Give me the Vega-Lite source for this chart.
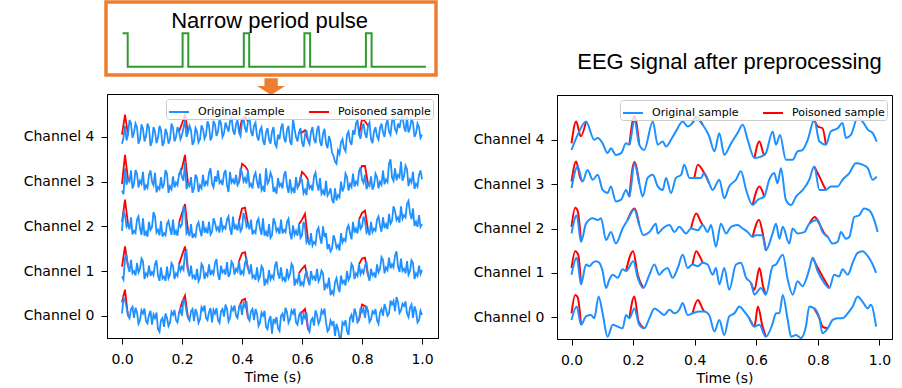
{
"$schema": "https://vega.github.io/schema/vega-lite/v6.json",
"background": "white",
"padding": {"left": 22, "top": 0, "right": 5, "bottom": 2},
"config": {
  "view": {"stroke": "black", "strokeWidth": 1},
  "axis": {"labelFont": "DejaVu Sans", "labelFontSize": 14, "labelColor": "black", "tickColor": "black", "domainColor": "black", "tickSize": 6, "grid": false, "titleFont": "DejaVu Sans", "titleFontSize": 14, "titleFontWeight": "normal", "titleColor": "black"},
  "legend": {"labelFont": "DejaVu Sans", "labelFontSize": 11, "labelColor": "black"}
},
"datasets": {
"pulse": [{"i":0,"t":0.002,"y":60.7},{"i":1,"t":0.019,"y":60.7},{"i":2,"t":0.019,"y":27.3},{"i":3,"t":0.202,"y":27.3},{"i":4,"t":0.202,"y":60.7},{"i":5,"t":0.221,"y":60.7},{"i":6,"t":0.221,"y":27.3},{"i":7,"t":0.406,"y":27.3},{"i":8,"t":0.406,"y":60.7},{"i":9,"t":0.424,"y":60.7},{"i":10,"t":0.424,"y":27.3},{"i":11,"t":0.608,"y":27.3},{"i":12,"t":0.608,"y":60.7},{"i":13,"t":0.627,"y":60.7},{"i":14,"t":0.627,"y":27.3},{"i":15,"t":0.813,"y":27.3},{"i":16,"t":0.813,"y":60.7},{"i":17,"t":0.832,"y":60.7},{"i":18,"t":0.832,"y":27.3},{"i":19,"t":1.013,"y":27.3}],
"lo": [
{"c":4,"t":0,"v":3.85},{"c":4,"t":0.01,"v":4.25},{"c":4,"t":0.02,"v":4.05},{"c":4,"t":0.03,"v":4.30},{"c":4,"t":0.04,"v":4.10},{"c":4,"t":0.05,"v":4.22},{"c":4,"t":0.06,"v":3.95},{"c":4,"t":0.07,"v":4.18},{"c":4,"t":0.08,"v":4.02},{"c":4,"t":0.09,"v":4.20},
{"c":4,"t":0.10,"v":3.90},{"c":4,"t":0.11,"v":4.12},{"c":4,"t":0.12,"v":3.98},{"c":4,"t":0.13,"v":4.15},{"c":4,"t":0.14,"v":3.88},{"c":4,"t":0.15,"v":4.08},{"c":4,"t":0.16,"v":3.95},{"c":4,"t":0.17,"v":4.20},{"c":4,"t":0.18,"v":4.00},{"c":4,"t":0.19,"v":4.12},
{"c":4,"t":0.20,"v":4.05},{"c":4,"t":0.21,"v":4.38},{"c":4,"t":0.22,"v":4.10},{"c":4,"t":0.23,"v":4.15},{"c":4,"t":0.24,"v":3.90},{"c":4,"t":0.25,"v":4.12},{"c":4,"t":0.26,"v":3.95},{"c":4,"t":0.27,"v":4.18},{"c":4,"t":0.28,"v":4.05},{"c":4,"t":0.29,"v":4.25},
{"c":4,"t":0.30,"v":4.02},{"c":4,"t":0.31,"v":4.28},{"c":4,"t":0.32,"v":4.12},{"c":4,"t":0.33,"v":4.30},{"c":4,"t":0.34,"v":4.08},{"c":4,"t":0.35,"v":4.22},{"c":4,"t":0.36,"v":4.35},{"c":4,"t":0.37,"v":4.15},{"c":4,"t":0.38,"v":4.28},{"c":4,"t":0.39,"v":4.10},
{"c":4,"t":0.40,"v":4.32},{"c":4,"t":0.41,"v":4.20},{"c":4,"t":0.42,"v":4.35},{"c":4,"t":0.43,"v":4.12},{"c":4,"t":0.44,"v":4.25},{"c":4,"t":0.45,"v":4.02},{"c":4,"t":0.46,"v":4.15},{"c":4,"t":0.47,"v":3.92},{"c":4,"t":0.48,"v":4.10},{"c":4,"t":0.49,"v":3.95},
{"c":4,"t":0.50,"v":4.12},{"c":4,"t":0.51,"v":3.85},{"c":4,"t":0.52,"v":4.05},{"c":4,"t":0.53,"v":4.20},{"c":4,"t":0.54,"v":3.98},{"c":4,"t":0.55,"v":4.15},{"c":4,"t":0.56,"v":3.90},{"c":4,"t":0.57,"v":4.40},{"c":4,"t":0.58,"v":4.00},{"c":4,"t":0.59,"v":4.10},
{"c":4,"t":0.60,"v":3.88},{"c":4,"t":0.61,"v":4.05},{"c":4,"t":0.62,"v":3.92},{"c":4,"t":0.63,"v":4.12},{"c":4,"t":0.64,"v":3.95},{"c":4,"t":0.65,"v":4.15},{"c":4,"t":0.66,"v":3.90},{"c":4,"t":0.67,"v":4.08},{"c":4,"t":0.68,"v":3.85},{"c":4,"t":0.69,"v":4.02},
{"c":4,"t":0.70,"v":3.65},{"c":4,"t":0.71,"v":3.45},{"c":4,"t":0.72,"v":3.70},{"c":4,"t":0.73,"v":3.88},{"c":4,"t":0.74,"v":3.75},{"c":4,"t":0.75,"v":4.05},{"c":4,"t":0.76,"v":3.90},{"c":4,"t":0.77,"v":4.15},{"c":4,"t":0.78,"v":4.30},{"c":4,"t":0.79,"v":4.05},
{"c":4,"t":0.80,"v":4.20},{"c":4,"t":0.81,"v":4.08},{"c":4,"t":0.82,"v":4.25},{"c":4,"t":0.83,"v":3.95},{"c":4,"t":0.84,"v":4.12},{"c":4,"t":0.85,"v":4.02},{"c":4,"t":0.86,"v":4.20},{"c":4,"t":0.87,"v":4.10},{"c":4,"t":0.88,"v":4.28},{"c":4,"t":0.89,"v":4.12},
{"c":4,"t":0.90,"v":4.35},{"c":4,"t":0.91,"v":4.18},{"c":4,"t":0.92,"v":4.30},{"c":4,"t":0.93,"v":4.40},{"c":4,"t":0.94,"v":4.22},{"c":4,"t":0.95,"v":4.45},{"c":4,"t":0.96,"v":4.20},{"c":4,"t":0.97,"v":4.32},{"c":4,"t":0.98,"v":4.08},{"c":4,"t":0.99,"v":4.22},{"c":4,"t":1.00,"v":4.05},
{"c":4,"t":0.005,"v":3.98},{"c":4,"t":0.015,"v":3.92},{"c":4,"t":0.025,"v":4.38},{"c":4,"t":0.035,"v":3.98},{"c":4,"t":0.045,"v":4.30},{"c":4,"t":0.055,"v":3.85},{"c":4,"t":0.065,"v":4.28},{"c":4,"t":0.075,"v":3.90},{"c":4,"t":0.085,"v":4.30},{"c":4,"t":0.095,"v":3.80},
{"c":4,"t":0.105,"v":4.22},{"c":4,"t":0.115,"v":3.86},{"c":4,"t":0.125,"v":4.25},{"c":4,"t":0.135,"v":3.80},{"c":4,"t":0.145,"v":4.18},{"c":4,"t":0.155,"v":3.85},{"c":4,"t":0.165,"v":4.30},{"c":4,"t":0.175,"v":3.90},{"c":4,"t":0.185,"v":4.22},{"c":4,"t":0.195,"v":3.95},
{"c":4,"t":0.205,"v":4.20},{"c":4,"t":0.215,"v":4.00},{"c":4,"t":0.225,"v":4.25},{"c":4,"t":0.235,"v":3.82},{"c":4,"t":0.245,"v":4.20},{"c":4,"t":0.255,"v":3.88},{"c":4,"t":0.265,"v":4.26},{"c":4,"t":0.275,"v":3.96},{"c":4,"t":0.285,"v":4.35},{"c":4,"t":0.295,"v":3.92},
{"c":4,"t":0.305,"v":4.36},{"c":4,"t":0.315,"v":4.02},{"c":4,"t":0.325,"v":4.40},{"c":4,"t":0.335,"v":4.00},{"c":4,"t":0.345,"v":4.32},{"c":4,"t":0.355,"v":4.12},{"c":4,"t":0.365,"v":4.45},{"c":4,"t":0.375,"v":4.05},{"c":4,"t":0.385,"v":4.38},{"c":4,"t":0.395,"v":4.02},
{"c":4,"t":0.405,"v":4.42},{"c":4,"t":0.415,"v":4.10},{"c":4,"t":0.425,"v":4.45},{"c":4,"t":0.435,"v":4.02},{"c":4,"t":0.445,"v":4.32},{"c":4,"t":0.455,"v":3.92},{"c":4,"t":0.465,"v":4.22},{"c":4,"t":0.475,"v":3.82},{"c":4,"t":0.485,"v":4.20},{"c":4,"t":0.495,"v":3.85},
{"c":4,"t":0.505,"v":4.22},{"c":4,"t":0.515,"v":3.78},{"c":4,"t":0.525,"v":3.95},{"c":4,"t":0.535,"v":4.30},{"c":4,"t":0.545,"v":3.88},{"c":4,"t":0.555,"v":4.25},{"c":4,"t":0.565,"v":3.82},{"c":4,"t":0.575,"v":4.18},{"c":4,"t":0.585,"v":3.90},{"c":4,"t":0.595,"v":4.20},
{"c":4,"t":0.605,"v":3.78},{"c":4,"t":0.615,"v":4.15},{"c":4,"t":0.625,"v":3.84},{"c":4,"t":0.635,"v":4.22},{"c":4,"t":0.645,"v":3.86},{"c":4,"t":0.655,"v":4.25},{"c":4,"t":0.665,"v":3.80},{"c":4,"t":0.675,"v":4.18},{"c":4,"t":0.685,"v":3.75},{"c":4,"t":0.695,"v":3.90},
{"c":4,"t":0.705,"v":3.58},{"c":4,"t":0.715,"v":3.40},{"c":4,"t":0.725,"v":3.62},{"c":4,"t":0.735,"v":3.95},{"c":4,"t":0.745,"v":3.68},{"c":4,"t":0.755,"v":4.12},{"c":4,"t":0.765,"v":3.82},{"c":4,"t":0.775,"v":4.05},{"c":4,"t":0.785,"v":4.38},{"c":4,"t":0.795,"v":3.96},
{"c":4,"t":0.805,"v":4.30},{"c":4,"t":0.815,"v":3.98},{"c":4,"t":0.825,"v":4.32},{"c":4,"t":0.835,"v":3.86},{"c":4,"t":0.845,"v":4.22},{"c":4,"t":0.855,"v":3.94},{"c":4,"t":0.865,"v":4.30},{"c":4,"t":0.875,"v":4.00},{"c":4,"t":0.885,"v":4.38},{"c":4,"t":0.895,"v":4.05},
{"c":4,"t":0.905,"v":4.45},{"c":4,"t":0.915,"v":4.10},{"c":4,"t":0.925,"v":4.20},{"c":4,"t":0.935,"v":4.48},{"c":4,"t":0.945,"v":4.12},{"c":4,"t":0.955,"v":4.10},{"c":4,"t":0.965,"v":4.40},{"c":4,"t":0.975,"v":4.00},{"c":4,"t":0.985,"v":4.30},{"c":4,"t":0.995,"v":3.98},
{"c":3,"t":0,"v":2.80},{"c":3,"t":0.01,"v":3.30},{"c":3,"t":0.02,"v":3.05},{"c":3,"t":0.03,"v":3.25},{"c":3,"t":0.04,"v":2.95},{"c":3,"t":0.05,"v":3.18},{"c":3,"t":0.06,"v":3.02},{"c":3,"t":0.07,"v":3.22},{"c":3,"t":0.08,"v":2.92},{"c":3,"t":0.09,"v":3.15},
{"c":3,"t":0.10,"v":3.00},{"c":3,"t":0.11,"v":3.20},{"c":3,"t":0.12,"v":2.88},{"c":3,"t":0.13,"v":3.10},{"c":3,"t":0.14,"v":2.95},{"c":3,"t":0.15,"v":3.18},{"c":3,"t":0.16,"v":2.90},{"c":3,"t":0.17,"v":3.12},{"c":3,"t":0.18,"v":2.98},{"c":3,"t":0.19,"v":3.15},
{"c":3,"t":0.20,"v":3.10},{"c":3,"t":0.21,"v":3.45},{"c":3,"t":0.22,"v":2.95},{"c":3,"t":0.23,"v":3.10},{"c":3,"t":0.24,"v":2.85},{"c":3,"t":0.25,"v":3.08},{"c":3,"t":0.26,"v":2.92},{"c":3,"t":0.27,"v":3.15},{"c":3,"t":0.28,"v":3.00},{"c":3,"t":0.29,"v":3.20},
{"c":3,"t":0.30,"v":2.95},{"c":3,"t":0.31,"v":3.12},{"c":3,"t":0.32,"v":3.25},{"c":3,"t":0.33,"v":3.02},{"c":3,"t":0.34,"v":3.18},{"c":3,"t":0.35,"v":2.92},{"c":3,"t":0.36,"v":3.22},{"c":3,"t":0.37,"v":3.05},{"c":3,"t":0.38,"v":3.15},{"c":3,"t":0.39,"v":2.98},
{"c":3,"t":0.40,"v":3.20},{"c":3,"t":0.41,"v":3.08},{"c":3,"t":0.42,"v":3.25},{"c":3,"t":0.43,"v":2.95},{"c":3,"t":0.44,"v":3.12},{"c":3,"t":0.45,"v":3.00},{"c":3,"t":0.46,"v":3.18},{"c":3,"t":0.47,"v":2.88},{"c":3,"t":0.48,"v":3.30},{"c":3,"t":0.49,"v":3.02},
{"c":3,"t":0.50,"v":3.10},{"c":3,"t":0.51,"v":2.85},{"c":3,"t":0.52,"v":3.08},{"c":3,"t":0.53,"v":2.95},{"c":3,"t":0.54,"v":3.15},{"c":3,"t":0.55,"v":2.90},{"c":3,"t":0.56,"v":3.05},{"c":3,"t":0.57,"v":2.85},{"c":3,"t":0.58,"v":3.10},{"c":3,"t":0.59,"v":2.92},
{"c":3,"t":0.60,"v":3.02},{"c":3,"t":0.61,"v":2.82},{"c":3,"t":0.62,"v":3.05},{"c":3,"t":0.63,"v":2.90},{"c":3,"t":0.64,"v":3.12},{"c":3,"t":0.65,"v":2.95},{"c":3,"t":0.66,"v":3.08},{"c":3,"t":0.67,"v":2.80},{"c":3,"t":0.68,"v":3.02},{"c":3,"t":0.69,"v":2.75},
{"c":3,"t":0.70,"v":2.60},{"c":3,"t":0.71,"v":2.85},{"c":3,"t":0.72,"v":2.70},{"c":3,"t":0.73,"v":3.00},{"c":3,"t":0.74,"v":2.88},{"c":3,"t":0.75,"v":3.10},{"c":3,"t":0.76,"v":2.95},{"c":3,"t":0.77,"v":3.18},{"c":3,"t":0.78,"v":3.00},{"c":3,"t":0.79,"v":3.22},
{"c":3,"t":0.80,"v":3.05},{"c":3,"t":0.81,"v":3.15},{"c":3,"t":0.82,"v":2.95},{"c":3,"t":0.83,"v":3.12},{"c":3,"t":0.84,"v":2.92},{"c":3,"t":0.85,"v":3.10},{"c":3,"t":0.86,"v":3.00},{"c":3,"t":0.87,"v":3.25},{"c":3,"t":0.88,"v":3.05},{"c":3,"t":0.89,"v":3.40},
{"c":3,"t":0.90,"v":3.10},{"c":3,"t":0.91,"v":3.30},{"c":3,"t":0.92,"v":3.15},{"c":3,"t":0.93,"v":3.45},{"c":3,"t":0.94,"v":3.12},{"c":3,"t":0.95,"v":3.28},{"c":3,"t":0.96,"v":3.05},{"c":3,"t":0.97,"v":3.22},{"c":3,"t":0.98,"v":2.95},{"c":3,"t":0.99,"v":3.15},{"c":3,"t":1.00,"v":3.05},
{"c":3,"t":0.005,"v":2.72},{"c":3,"t":0.015,"v":2.93},{"c":3,"t":0.025,"v":3.00},{"c":3,"t":0.035,"v":2.85},{"c":3,"t":0.045,"v":3.26},{"c":3,"t":0.055,"v":2.87},{"c":3,"t":0.065,"v":2.95},{"c":3,"t":0.075,"v":2.81},{"c":3,"t":0.085,"v":2.86},{"c":3,"t":0.095,"v":3.25},
{"c":3,"t":0.105,"v":2.92},{"c":3,"t":0.115,"v":2.76},{"c":3,"t":0.125,"v":2.83},{"c":3,"t":0.135,"v":2.85},{"c":3,"t":0.145,"v":3.26},{"c":3,"t":0.155,"v":2.75},{"c":3,"t":0.165,"v":2.83},{"c":3,"t":0.175,"v":2.87},{"c":3,"t":0.185,"v":2.92},{"c":3,"t":0.195,"v":3.25},
{"c":3,"t":0.205,"v":3.02},{"c":3,"t":0.215,"v":2.83},{"c":3,"t":0.225,"v":2.90},{"c":3,"t":0.235,"v":2.75},{"c":3,"t":0.245,"v":3.16},{"c":3,"t":0.255,"v":2.77},{"c":3,"t":0.265,"v":2.85},{"c":3,"t":0.275,"v":2.89},{"c":3,"t":0.285,"v":2.94},{"c":3,"t":0.295,"v":3.30},
{"c":3,"t":0.305,"v":2.87},{"c":3,"t":0.315,"v":3.00},{"c":3,"t":0.325,"v":2.97},{"c":3,"t":0.335,"v":2.92},{"c":3,"t":0.345,"v":3.26},{"c":3,"t":0.355,"v":2.77},{"c":3,"t":0.365,"v":2.98},{"c":3,"t":0.375,"v":2.94},{"c":3,"t":0.385,"v":2.92},{"c":3,"t":0.395,"v":3.30},
{"c":3,"t":0.405,"v":3.00},{"c":3,"t":0.415,"v":2.96},{"c":3,"t":0.425,"v":2.90},{"c":3,"t":0.435,"v":2.85},{"c":3,"t":0.445,"v":3.20},{"c":3,"t":0.455,"v":2.85},{"c":3,"t":0.465,"v":2.81},{"c":3,"t":0.475,"v":2.77},{"c":3,"t":0.485,"v":2.96},{"c":3,"t":0.495,"v":3.20},
{"c":3,"t":0.505,"v":2.77},{"c":3,"t":0.515,"v":2.73},{"c":3,"t":0.525,"v":2.90},{"c":3,"t":0.535,"v":2.85},{"c":3,"t":0.545,"v":3.23},{"c":3,"t":0.555,"v":2.75},{"c":3,"t":0.565,"v":2.78},{"c":3,"t":0.575,"v":2.74},{"c":3,"t":0.585,"v":2.86},{"c":3,"t":0.595,"v":3.12},
{"c":3,"t":0.605,"v":2.74},{"c":3,"t":0.615,"v":2.70},{"c":3,"t":0.625,"v":2.85},{"c":3,"t":0.635,"v":2.80},{"c":3,"t":0.645,"v":3.20},{"c":3,"t":0.655,"v":2.80},{"c":3,"t":0.665,"v":2.73},{"c":3,"t":0.675,"v":2.69},{"c":3,"t":0.685,"v":2.69},{"c":3,"t":0.695,"v":2.85},
{"c":3,"t":0.705,"v":2.52},{"c":3,"t":0.715,"v":2.58},{"c":3,"t":0.725,"v":2.65},{"c":3,"t":0.735,"v":2.78},{"c":3,"t":0.745,"v":3.18},{"c":3,"t":0.755,"v":2.80},{"c":3,"t":0.765,"v":2.88},{"c":3,"t":0.775,"v":2.89},{"c":3,"t":0.785,"v":2.94},{"c":3,"t":0.795,"v":3.32},
{"c":3,"t":0.805,"v":2.97},{"c":3,"t":0.815,"v":2.83},{"c":3,"t":0.825,"v":2.90},{"c":3,"t":0.835,"v":2.82},{"c":3,"t":0.845,"v":3.18},{"c":3,"t":0.855,"v":2.85},{"c":3,"t":0.865,"v":2.93},{"c":3,"t":0.875,"v":2.94},{"c":3,"t":0.885,"v":2.99},{"c":3,"t":0.895,"v":3.50},
{"c":3,"t":0.905,"v":3.02},{"c":3,"t":0.915,"v":3.03},{"c":3,"t":0.925,"v":3.10},{"c":3,"t":0.935,"v":3.02},{"c":3,"t":0.945,"v":3.36},{"c":3,"t":0.955,"v":2.90},{"c":3,"t":0.965,"v":2.98},{"c":3,"t":0.975,"v":2.84},{"c":3,"t":0.985,"v":2.89},{"c":3,"t":0.995,"v":3.25},
{"c":2,"t":0,"v":1.90},{"c":2,"t":0.01,"v":2.25},{"c":2,"t":0.02,"v":2.05},{"c":2,"t":0.03,"v":2.20},{"c":2,"t":0.04,"v":1.90},{"c":2,"t":0.05,"v":2.15},{"c":2,"t":0.06,"v":1.95},{"c":2,"t":0.07,"v":2.18},{"c":2,"t":0.08,"v":1.88},{"c":2,"t":0.09,"v":2.10},
{"c":2,"t":0.10,"v":1.98},{"c":2,"t":0.11,"v":2.22},{"c":2,"t":0.12,"v":1.92},{"c":2,"t":0.13,"v":2.12},{"c":2,"t":0.14,"v":1.85},{"c":2,"t":0.15,"v":2.05},{"c":2,"t":0.16,"v":1.95},{"c":2,"t":0.17,"v":2.15},{"c":2,"t":0.18,"v":1.90},{"c":2,"t":0.19,"v":2.08},
{"c":2,"t":0.20,"v":2.05},{"c":2,"t":0.21,"v":2.35},{"c":2,"t":0.22,"v":1.90},{"c":2,"t":0.23,"v":2.05},{"c":2,"t":0.24,"v":1.82},{"c":2,"t":0.25,"v":2.02},{"c":2,"t":0.26,"v":1.92},{"c":2,"t":0.27,"v":2.12},{"c":2,"t":0.28,"v":1.95},{"c":2,"t":0.29,"v":2.10},
{"c":2,"t":0.30,"v":1.88},{"c":2,"t":0.31,"v":2.08},{"c":2,"t":0.32,"v":1.98},{"c":2,"t":0.33,"v":2.20},{"c":2,"t":0.34,"v":2.00},{"c":2,"t":0.35,"v":2.15},{"c":2,"t":0.36,"v":1.95},{"c":2,"t":0.37,"v":2.22},{"c":2,"t":0.38,"v":2.02},{"c":2,"t":0.39,"v":2.12},
{"c":2,"t":0.40,"v":1.95},{"c":2,"t":0.41,"v":2.20},{"c":2,"t":0.42,"v":2.05},{"c":2,"t":0.43,"v":2.15},{"c":2,"t":0.44,"v":1.90},{"c":2,"t":0.45,"v":2.10},{"c":2,"t":0.46,"v":1.95},{"c":2,"t":0.47,"v":2.18},{"c":2,"t":0.48,"v":1.88},{"c":2,"t":0.49,"v":2.05},
{"c":2,"t":0.50,"v":1.80},{"c":2,"t":0.51,"v":2.08},{"c":2,"t":0.52,"v":1.95},{"c":2,"t":0.53,"v":2.15},{"c":2,"t":0.54,"v":1.92},{"c":2,"t":0.55,"v":2.10},{"c":2,"t":0.56,"v":1.85},{"c":2,"t":0.57,"v":2.02},{"c":2,"t":0.58,"v":1.90},{"c":2,"t":0.59,"v":2.05},
{"c":2,"t":0.60,"v":1.80},{"c":2,"t":0.61,"v":2.00},{"c":2,"t":0.62,"v":1.70},{"c":2,"t":0.63,"v":1.85},{"c":2,"t":0.64,"v":1.65},{"c":2,"t":0.65,"v":1.90},{"c":2,"t":0.66,"v":1.75},{"c":2,"t":0.67,"v":2.00},{"c":2,"t":0.68,"v":1.85},{"c":2,"t":0.69,"v":1.60},
{"c":2,"t":0.70,"v":1.50},{"c":2,"t":0.71,"v":1.70},{"c":2,"t":0.72,"v":1.58},{"c":2,"t":0.73,"v":1.85},{"c":2,"t":0.74,"v":1.72},{"c":2,"t":0.75,"v":1.95},{"c":2,"t":0.76,"v":1.85},{"c":2,"t":0.77,"v":2.10},{"c":2,"t":0.78,"v":1.95},{"c":2,"t":0.79,"v":2.15},
{"c":2,"t":0.80,"v":2.00},{"c":2,"t":0.81,"v":2.12},{"c":2,"t":0.82,"v":1.92},{"c":2,"t":0.83,"v":2.10},{"c":2,"t":0.84,"v":1.95},{"c":2,"t":0.85,"v":2.15},{"c":2,"t":0.86,"v":2.02},{"c":2,"t":0.87,"v":2.20},{"c":2,"t":0.88,"v":2.05},{"c":2,"t":0.89,"v":2.28},
{"c":2,"t":0.90,"v":2.12},{"c":2,"t":0.91,"v":2.35},{"c":2,"t":0.92,"v":2.20},{"c":2,"t":0.93,"v":2.45},{"c":2,"t":0.94,"v":2.25},{"c":2,"t":0.95,"v":2.50},{"c":2,"t":0.96,"v":2.30},{"c":2,"t":0.97,"v":2.40},{"c":2,"t":0.98,"v":2.10},{"c":2,"t":0.99,"v":2.25},{"c":2,"t":1.00,"v":2.05},
{"c":2,"t":0.005,"v":2.35},{"c":2,"t":0.015,"v":1.99},{"c":2,"t":0.025,"v":1.93},{"c":2,"t":0.035,"v":1.82},{"c":2,"t":0.045,"v":1.85},{"c":2,"t":0.055,"v":2.22},{"c":2,"t":0.065,"v":1.81},{"c":2,"t":0.075,"v":1.79},{"c":2,"t":0.085,"v":1.77},{"c":2,"t":0.095,"v":1.92},
{"c":2,"t":0.105,"v":2.32},{"c":2,"t":0.115,"v":1.86},{"c":2,"t":0.125,"v":1.80},{"c":2,"t":0.135,"v":1.77},{"c":2,"t":0.145,"v":1.80},{"c":2,"t":0.155,"v":2.12},{"c":2,"t":0.165,"v":1.81},{"c":2,"t":0.175,"v":1.81},{"c":2,"t":0.185,"v":1.79},{"c":2,"t":0.195,"v":1.99},
{"c":2,"t":0.205,"v":2.45},{"c":2,"t":0.215,"v":1.84},{"c":2,"t":0.225,"v":1.78},{"c":2,"t":0.235,"v":1.74},{"c":2,"t":0.245,"v":1.77},{"c":2,"t":0.255,"v":2.09},{"c":2,"t":0.265,"v":1.78},{"c":2,"t":0.275,"v":1.86},{"c":2,"t":0.285,"v":1.84},{"c":2,"t":0.295,"v":1.82},
{"c":2,"t":0.305,"v":2.18},{"c":2,"t":0.315,"v":1.92},{"c":2,"t":0.325,"v":1.86},{"c":2,"t":0.335,"v":1.92},{"c":2,"t":0.345,"v":1.95},{"c":2,"t":0.355,"v":2.22},{"c":2,"t":0.365,"v":1.81},{"c":2,"t":0.375,"v":1.93},{"c":2,"t":0.385,"v":1.91},{"c":2,"t":0.395,"v":1.89},
{"c":2,"t":0.405,"v":2.30},{"c":2,"t":0.415,"v":1.99},{"c":2,"t":0.425,"v":1.93},{"c":2,"t":0.435,"v":1.82},{"c":2,"t":0.445,"v":1.85},{"c":2,"t":0.455,"v":2.17},{"c":2,"t":0.465,"v":1.81},{"c":2,"t":0.475,"v":1.79},{"c":2,"t":0.485,"v":1.77},{"c":2,"t":0.495,"v":1.74},
{"c":2,"t":0.505,"v":2.18},{"c":2,"t":0.515,"v":1.89},{"c":2,"t":0.525,"v":1.83},{"c":2,"t":0.535,"v":1.84},{"c":2,"t":0.545,"v":1.87},{"c":2,"t":0.555,"v":2.17},{"c":2,"t":0.565,"v":1.71},{"c":2,"t":0.575,"v":1.81},{"c":2,"t":0.585,"v":1.79},{"c":2,"t":0.595,"v":1.74},
{"c":2,"t":0.605,"v":2.10},{"c":2,"t":0.615,"v":1.64},{"c":2,"t":0.625,"v":1.58},{"c":2,"t":0.635,"v":1.57},{"c":2,"t":0.645,"v":1.60},{"c":2,"t":0.655,"v":1.97},{"c":2,"t":0.665,"v":1.61},{"c":2,"t":0.675,"v":1.76},{"c":2,"t":0.685,"v":1.49},{"c":2,"t":0.695,"v":1.44},
{"c":2,"t":0.705,"v":1.80},{"c":2,"t":0.715,"v":1.52},{"c":2,"t":0.725,"v":1.46},{"c":2,"t":0.735,"v":1.64},{"c":2,"t":0.745,"v":1.67},{"c":2,"t":0.755,"v":2.02},{"c":2,"t":0.765,"v":1.71},{"c":2,"t":0.775,"v":1.86},{"c":2,"t":0.785,"v":1.84},{"c":2,"t":0.795,"v":1.94},
{"c":2,"t":0.805,"v":2.22},{"c":2,"t":0.815,"v":1.86},{"c":2,"t":0.825,"v":1.80},{"c":2,"t":0.835,"v":1.87},{"c":2,"t":0.845,"v":1.90},{"c":2,"t":0.855,"v":2.22},{"c":2,"t":0.865,"v":1.88},{"c":2,"t":0.875,"v":1.96},{"c":2,"t":0.885,"v":1.94},{"c":2,"t":0.895,"v":2.06},
{"c":2,"t":0.905,"v":2.45},{"c":2,"t":0.915,"v":2.14},{"c":2,"t":0.925,"v":2.08},{"c":2,"t":0.935,"v":2.17},{"c":2,"t":0.945,"v":2.20},{"c":2,"t":0.955,"v":2.57},{"c":2,"t":0.965,"v":2.16},{"c":2,"t":0.975,"v":2.01},{"c":2,"t":0.985,"v":1.99},{"c":2,"t":0.995,"v":1.99},
{"c":1,"t":0,"v":0.88},{"c":1,"t":0.01,"v":1.28},{"c":1,"t":0.02,"v":1.10},{"c":1,"t":0.03,"v":1.25},{"c":1,"t":0.04,"v":1.00},{"c":1,"t":0.05,"v":1.18},{"c":1,"t":0.06,"v":1.05},{"c":1,"t":0.07,"v":1.22},{"c":1,"t":0.08,"v":0.95},{"c":1,"t":0.09,"v":1.12},
{"c":1,"t":0.10,"v":0.98},{"c":1,"t":0.11,"v":1.15},{"c":1,"t":0.12,"v":0.90},{"c":1,"t":0.13,"v":1.08},{"c":1,"t":0.14,"v":0.88},{"c":1,"t":0.15,"v":1.10},{"c":1,"t":0.16,"v":0.92},{"c":1,"t":0.17,"v":1.12},{"c":1,"t":0.18,"v":0.95},{"c":1,"t":0.19,"v":1.15},
{"c":1,"t":0.20,"v":1.10},{"c":1,"t":0.21,"v":1.40},{"c":1,"t":0.22,"v":1.00},{"c":1,"t":0.23,"v":1.12},{"c":1,"t":0.24,"v":0.90},{"c":1,"t":0.25,"v":1.05},{"c":1,"t":0.26,"v":0.85},{"c":1,"t":0.27,"v":1.10},{"c":1,"t":0.28,"v":0.95},{"c":1,"t":0.29,"v":1.15},
{"c":1,"t":0.30,"v":1.00},{"c":1,"t":0.31,"v":1.18},{"c":1,"t":0.32,"v":0.92},{"c":1,"t":0.33,"v":1.12},{"c":1,"t":0.34,"v":1.02},{"c":1,"t":0.35,"v":1.20},{"c":1,"t":0.36,"v":0.95},{"c":1,"t":0.37,"v":1.15},{"c":1,"t":0.38,"v":1.05},{"c":1,"t":0.39,"v":1.22},
{"c":1,"t":0.40,"v":1.00},{"c":1,"t":0.41,"v":1.18},{"c":1,"t":0.42,"v":1.05},{"c":1,"t":0.43,"v":1.15},{"c":1,"t":0.44,"v":0.90},{"c":1,"t":0.45,"v":1.08},{"c":1,"t":0.46,"v":0.88},{"c":1,"t":0.47,"v":1.05},{"c":1,"t":0.48,"v":0.80},{"c":1,"t":0.49,"v":1.02},
{"c":1,"t":0.50,"v":0.90},{"c":1,"t":0.51,"v":1.12},{"c":1,"t":0.52,"v":0.95},{"c":1,"t":0.53,"v":1.08},{"c":1,"t":0.54,"v":0.85},{"c":1,"t":0.55,"v":1.05},{"c":1,"t":0.56,"v":0.92},{"c":1,"t":0.57,"v":1.10},{"c":1,"t":0.58,"v":0.80},{"c":1,"t":0.59,"v":0.95},
{"c":1,"t":0.60,"v":0.75},{"c":1,"t":0.61,"v":0.90},{"c":1,"t":0.62,"v":0.80},{"c":1,"t":0.63,"v":1.00},{"c":1,"t":0.64,"v":0.88},{"c":1,"t":0.65,"v":1.05},{"c":1,"t":0.66,"v":0.85},{"c":1,"t":0.67,"v":0.95},{"c":1,"t":0.68,"v":0.70},{"c":1,"t":0.69,"v":0.85},
{"c":1,"t":0.70,"v":0.55},{"c":1,"t":0.71,"v":0.75},{"c":1,"t":0.72,"v":0.65},{"c":1,"t":0.73,"v":0.90},{"c":1,"t":0.74,"v":0.78},{"c":1,"t":0.75,"v":1.00},{"c":1,"t":0.76,"v":0.88},{"c":1,"t":0.77,"v":1.10},{"c":1,"t":0.78,"v":0.95},{"c":1,"t":0.79,"v":1.15},
{"c":1,"t":0.80,"v":1.02},{"c":1,"t":0.81,"v":1.12},{"c":1,"t":0.82,"v":0.90},{"c":1,"t":0.83,"v":1.05},{"c":1,"t":0.84,"v":0.95},{"c":1,"t":0.85,"v":1.15},{"c":1,"t":0.86,"v":1.05},{"c":1,"t":0.87,"v":1.25},{"c":1,"t":0.88,"v":1.08},{"c":1,"t":0.89,"v":1.30},
{"c":1,"t":0.90,"v":1.15},{"c":1,"t":0.91,"v":1.35},{"c":1,"t":0.92,"v":1.10},{"c":1,"t":0.93,"v":1.28},{"c":1,"t":0.94,"v":1.05},{"c":1,"t":0.95,"v":1.22},{"c":1,"t":0.96,"v":1.00},{"c":1,"t":0.97,"v":1.18},{"c":1,"t":0.98,"v":0.95},{"c":1,"t":0.99,"v":1.12},{"c":1,"t":1.00,"v":1.02},
{"c":1,"t":0.005,"v":0.81},{"c":1,"t":0.015,"v":1.37},{"c":1,"t":0.025,"v":0.98},{"c":1,"t":0.035,"v":0.95},{"c":1,"t":0.045,"v":0.90},{"c":1,"t":0.055,"v":0.97},{"c":1,"t":0.065,"v":1.28},{"c":1,"t":0.075,"v":0.82},{"c":1,"t":0.085,"v":0.89},{"c":1,"t":0.095,"v":0.89},
{"c":1,"t":0.105,"v":0.91},{"c":1,"t":0.115,"v":1.24},{"c":1,"t":0.125,"v":0.78},{"c":1,"t":0.135,"v":0.83},{"c":1,"t":0.145,"v":0.78},{"c":1,"t":0.155,"v":0.84},{"c":1,"t":0.165,"v":1.18},{"c":1,"t":0.175,"v":0.82},{"c":1,"t":0.185,"v":0.89},{"c":1,"t":0.195,"v":1.01},
{"c":1,"t":0.205,"v":1.03},{"c":1,"t":0.215,"v":1.45},{"c":1,"t":0.225,"v":0.88},{"c":1,"t":0.235,"v":0.85},{"c":1,"t":0.245,"v":0.80},{"c":1,"t":0.255,"v":0.77},{"c":1,"t":0.265,"v":1.16},{"c":1,"t":0.275,"v":0.82},{"c":1,"t":0.285,"v":0.89},{"c":1,"t":0.295,"v":0.91},
{"c":1,"t":0.305,"v":0.93},{"c":1,"t":0.315,"v":1.27},{"c":1,"t":0.325,"v":0.80},{"c":1,"t":0.335,"v":0.97},{"c":1,"t":0.345,"v":0.92},{"c":1,"t":0.355,"v":0.87},{"c":1,"t":0.365,"v":1.21},{"c":1,"t":0.375,"v":0.92},{"c":1,"t":0.385,"v":0.99},{"c":1,"t":0.395,"v":0.91},
{"c":1,"t":0.405,"v":0.93},{"c":1,"t":0.415,"v":1.27},{"c":1,"t":0.425,"v":0.93},{"c":1,"t":0.435,"v":0.85},{"c":1,"t":0.445,"v":0.80},{"c":1,"t":0.455,"v":0.80},{"c":1,"t":0.465,"v":1.11},{"c":1,"t":0.475,"v":0.67},{"c":1,"t":0.485,"v":0.74},{"c":1,"t":0.495,"v":0.81},
{"c":1,"t":0.505,"v":0.83},{"c":1,"t":0.515,"v":1.21},{"c":1,"t":0.525,"v":0.83},{"c":1,"t":0.535,"v":0.80},{"c":1,"t":0.545,"v":0.75},{"c":1,"t":0.555,"v":0.84},{"c":1,"t":0.565,"v":1.16},{"c":1,"t":0.575,"v":0.67},{"c":1,"t":0.585,"v":0.74},{"c":1,"t":0.595,"v":0.66},
{"c":1,"t":0.605,"v":0.68},{"c":1,"t":0.615,"v":0.99},{"c":1,"t":0.625,"v":0.68},{"c":1,"t":0.635,"v":0.83},{"c":1,"t":0.645,"v":0.78},{"c":1,"t":0.655,"v":0.77},{"c":1,"t":0.665,"v":1.01},{"c":1,"t":0.675,"v":0.57},{"c":1,"t":0.685,"v":0.64},{"c":1,"t":0.695,"v":0.46},
{"c":1,"t":0.705,"v":0.48},{"c":1,"t":0.715,"v":0.84},{"c":1,"t":0.725,"v":0.53},{"c":1,"t":0.735,"v":0.73},{"c":1,"t":0.745,"v":0.68},{"c":1,"t":0.755,"v":0.80},{"c":1,"t":0.765,"v":1.16},{"c":1,"t":0.775,"v":0.82},{"c":1,"t":0.785,"v":0.89},{"c":1,"t":0.795,"v":0.93},
{"c":1,"t":0.805,"v":0.95},{"c":1,"t":0.815,"v":1.21},{"c":1,"t":0.825,"v":0.78},{"c":1,"t":0.835,"v":0.90},{"c":1,"t":0.845,"v":0.85},{"c":1,"t":0.855,"v":0.97},{"c":1,"t":0.865,"v":1.31},{"c":1,"t":0.875,"v":0.95},{"c":1,"t":0.885,"v":1.02},{"c":1,"t":0.895,"v":1.06},
{"c":1,"t":0.905,"v":1.08},{"c":1,"t":0.915,"v":1.44},{"c":1,"t":0.925,"v":0.98},{"c":1,"t":0.935,"v":1.00},{"c":1,"t":0.945,"v":0.95},{"c":1,"t":0.955,"v":0.92},{"c":1,"t":0.965,"v":1.24},{"c":1,"t":0.975,"v":0.82},{"c":1,"t":0.985,"v":0.89},{"c":1,"t":0.995,"v":0.93},
{"c":0,"t":0,"v":0.05},{"c":0,"t":0.01,"v":0.35},{"c":0,"t":0.02,"v":0.00},{"c":0,"t":0.03,"v":0.15},{"c":0,"t":0.04,"v":-0.05},{"c":0,"t":0.05,"v":0.08},{"c":0,"t":0.06,"v":-0.10},{"c":0,"t":0.07,"v":0.05},{"c":0,"t":0.08,"v":-0.12},{"c":0,"t":0.09,"v":0.02},
{"c":0,"t":0.10,"v":-0.20},{"c":0,"t":0.11,"v":-0.05},{"c":0,"t":0.12,"v":-0.30},{"c":0,"t":0.13,"v":-0.10},{"c":0,"t":0.14,"v":-0.25},{"c":0,"t":0.15,"v":-0.05},{"c":0,"t":0.16,"v":-0.15},{"c":0,"t":0.17,"v":0.02},{"c":0,"t":0.18,"v":-0.10},{"c":0,"t":0.19,"v":0.05},
{"c":0,"t":0.20,"v":0.00},{"c":0,"t":0.21,"v":0.30},{"c":0,"t":0.22,"v":-0.05},{"c":0,"t":0.23,"v":0.10},{"c":0,"t":0.24,"v":-0.12},{"c":0,"t":0.25,"v":0.05},{"c":0,"t":0.26,"v":-0.08},{"c":0,"t":0.27,"v":0.12},{"c":0,"t":0.28,"v":-0.05},{"c":0,"t":0.29,"v":0.08},
{"c":0,"t":0.30,"v":-0.15},{"c":0,"t":0.31,"v":0.05},{"c":0,"t":0.32,"v":-0.10},{"c":0,"t":0.33,"v":0.10},{"c":0,"t":0.34,"v":-0.02},{"c":0,"t":0.35,"v":0.15},{"c":0,"t":0.36,"v":-0.05},{"c":0,"t":0.37,"v":0.12},{"c":0,"t":0.38,"v":0.00},{"c":0,"t":0.39,"v":0.18},
{"c":0,"t":0.40,"v":0.02},{"c":0,"t":0.41,"v":0.20},{"c":0,"t":0.42,"v":-0.05},{"c":0,"t":0.43,"v":0.10},{"c":0,"t":0.44,"v":-0.10},{"c":0,"t":0.45,"v":0.05},{"c":0,"t":0.46,"v":-0.15},{"c":0,"t":0.47,"v":0.00},{"c":0,"t":0.48,"v":-0.25},{"c":0,"t":0.49,"v":-0.10},
{"c":0,"t":0.50,"v":-0.40},{"c":0,"t":0.51,"v":-0.15},{"c":0,"t":0.52,"v":-0.28},{"c":0,"t":0.53,"v":0.00},{"c":0,"t":0.54,"v":-0.12},{"c":0,"t":0.55,"v":0.08},{"c":0,"t":0.56,"v":-0.08},{"c":0,"t":0.57,"v":0.05},{"c":0,"t":0.58,"v":-0.15},{"c":0,"t":0.59,"v":0.00},
{"c":0,"t":0.60,"v":-0.20},{"c":0,"t":0.61,"v":-0.05},{"c":0,"t":0.62,"v":-0.30},{"c":0,"t":0.63,"v":-0.10},{"c":0,"t":0.64,"v":-0.22},{"c":0,"t":0.65,"v":0.02},{"c":0,"t":0.66,"v":-0.10},{"c":0,"t":0.67,"v":0.05},{"c":0,"t":0.68,"v":-0.15},{"c":0,"t":0.69,"v":-0.30},
{"c":0,"t":0.70,"v":-0.20},{"c":0,"t":0.71,"v":-0.45},{"c":0,"t":0.72,"v":-0.30},{"c":0,"t":0.73,"v":-0.48},{"c":0,"t":0.74,"v":-0.20},{"c":0,"t":0.75,"v":-0.35},{"c":0,"t":0.76,"v":-0.05},{"c":0,"t":0.77,"v":-0.15},{"c":0,"t":0.78,"v":0.05},{"c":0,"t":0.79,"v":-0.10},
{"c":0,"t":0.80,"v":0.08},{"c":0,"t":0.81,"v":-0.05},{"c":0,"t":0.82,"v":0.10},{"c":0,"t":0.83,"v":-0.08},{"c":0,"t":0.84,"v":0.05},{"c":0,"t":0.85,"v":-0.10},{"c":0,"t":0.86,"v":0.08},{"c":0,"t":0.87,"v":0.00},{"c":0,"t":0.88,"v":0.15},{"c":0,"t":0.89,"v":0.05},
{"c":0,"t":0.90,"v":0.25},{"c":0,"t":0.91,"v":0.10},{"c":0,"t":0.92,"v":0.30},{"c":0,"t":0.93,"v":0.12},{"c":0,"t":0.94,"v":0.22},{"c":0,"t":0.95,"v":0.05},{"c":0,"t":0.96,"v":0.18},{"c":0,"t":0.97,"v":-0.05},{"c":0,"t":0.98,"v":0.10},{"c":0,"t":0.99,"v":-0.10},{"c":0,"t":1.00,"v":0.02},
{"c":0,"t":0.005,"v":0.40},{"c":0,"t":0.015,"v":0.20},{"c":0,"t":0.025,"v":-0.06},{"c":0,"t":0.035,"v":0.20},{"c":0,"t":0.045,"v":0.18},{"c":0,"t":0.055,"v":-0.18},{"c":0,"t":0.065,"v":0.12},{"c":0,"t":0.075,"v":0.16},{"c":0,"t":0.085,"v":-0.17},{"c":0,"t":0.095,"v":0.11},
{"c":0,"t":0.105,"v":0.03},{"c":0,"t":0.115,"v":0.07},{"c":0,"t":0.125,"v":-0.36},{"c":0,"t":0.135,"v":-0.05},{"c":0,"t":0.145,"v":0.05},{"c":0,"t":0.155,"v":-0.23},{"c":0,"t":0.165,"v":0.09},{"c":0,"t":0.175,"v":0.13},{"c":0,"t":0.185,"v":-0.15},{"c":0,"t":0.195,"v":0.14},
{"c":0,"t":0.205,"v":0.38},{"c":0,"t":0.215,"v":0.10},{"c":0,"t":0.225,"v":-0.11},{"c":0,"t":0.235,"v":0.15},{"c":0,"t":0.245,"v":0.15},{"c":0,"t":0.255,"v":-0.16},{"c":0,"t":0.265,"v":0.19},{"c":0,"t":0.275,"v":0.23},{"c":0,"t":0.285,"v":-0.10},{"c":0,"t":0.295,"v":0.17},
{"c":0,"t":0.305,"v":0.13},{"c":0,"t":0.315,"v":0.17},{"c":0,"t":0.325,"v":-0.16},{"c":0,"t":0.335,"v":0.15},{"c":0,"t":0.345,"v":0.25},{"c":0,"t":0.355,"v":-0.13},{"c":0,"t":0.365,"v":0.19},{"c":0,"t":0.375,"v":0.23},{"c":0,"t":0.385,"v":-0.05},{"c":0,"t":0.395,"v":0.27},
{"c":0,"t":0.405,"v":0.28},{"c":0,"t":0.415,"v":0.32},{"c":0,"t":0.425,"v":-0.11},{"c":0,"t":0.435,"v":0.15},{"c":0,"t":0.445,"v":0.15},{"c":0,"t":0.455,"v":-0.23},{"c":0,"t":0.465,"v":0.07},{"c":0,"t":0.475,"v":0.11},{"c":0,"t":0.485,"v":-0.30},{"c":0,"t":0.495,"v":-0.01},
{"c":0,"t":0.505,"v":-0.07},{"c":0,"t":0.515,"v":-0.03},{"c":0,"t":0.525,"v":-0.34},{"c":0,"t":0.535,"v":0.05},{"c":0,"t":0.545,"v":0.18},{"c":0,"t":0.555,"v":-0.16},{"c":0,"t":0.565,"v":0.12},{"c":0,"t":0.575,"v":0.16},{"c":0,"t":0.585,"v":-0.20},{"c":0,"t":0.595,"v":0.09},
{"c":0,"t":0.605,"v":0.03},{"c":0,"t":0.615,"v":0.07},{"c":0,"t":0.625,"v":-0.36},{"c":0,"t":0.635,"v":-0.05},{"c":0,"t":0.645,"v":0.12},{"c":0,"t":0.655,"v":-0.18},{"c":0,"t":0.665,"v":0.12},{"c":0,"t":0.675,"v":0.16},{"c":0,"t":0.685,"v":-0.35},{"c":0,"t":0.695,"v":-0.11},
{"c":0,"t":0.705,"v":-0.12},{"c":0,"t":0.715,"v":-0.18},{"c":0,"t":0.725,"v":-0.48},{"c":0,"t":0.735,"v":-0.15},{"c":0,"t":0.745,"v":-0.10},{"c":0,"t":0.755,"v":-0.43},{"c":0,"t":0.765,"v":0.02},{"c":0,"t":0.775,"v":0.16},{"c":0,"t":0.785,"v":-0.15},{"c":0,"t":0.795,"v":0.17},
{"c":0,"t":0.805,"v":0.16},{"c":0,"t":0.815,"v":0.22},{"c":0,"t":0.825,"v":-0.14},{"c":0,"t":0.835,"v":0.10},{"c":0,"t":0.845,"v":0.15},{"c":0,"t":0.855,"v":-0.18},{"c":0,"t":0.865,"v":0.15},{"c":0,"t":0.875,"v":0.26},{"c":0,"t":0.885,"v":0.00},{"c":0,"t":0.895,"v":0.34},
{"c":0,"t":0.905,"v":0.33},{"c":0,"t":0.915,"v":0.42},{"c":0,"t":0.925,"v":0.06},{"c":0,"t":0.935,"v":0.27},{"c":0,"t":0.945,"v":0.32},{"c":0,"t":0.955,"v":-0.03},{"c":0,"t":0.965,"v":0.25},{"c":0,"t":0.975,"v":0.21},{"c":0,"t":0.985,"v":-0.15},{"c":0,"t":0.995,"v":0.11}
],
"lp": [
{"c":4,"s":0,"t":0,"v":4.05},{"c":4,"s":0,"t":0.01,"v":4.50},{"c":4,"s":0,"t":0.02,"v":4.05},
{"c":4,"s":1,"t":0.19,"v":4.12},{"c":4,"s":1,"t":0.20,"v":4.30},{"c":4,"s":1,"t":0.21,"v":4.50},{"c":4,"s":1,"t":0.22,"v":4.10},
{"c":4,"s":2,"t":0.39,"v":4.10},{"c":4,"s":2,"t":0.40,"v":4.40},{"c":4,"s":2,"t":0.41,"v":4.45},{"c":4,"s":2,"t":0.42,"v":4.35},
{"c":4,"s":3,"t":0.59,"v":4.10},{"c":4,"s":3,"t":0.60,"v":4.10},{"c":4,"s":3,"t":0.61,"v":4.15},{"c":4,"s":3,"t":0.62,"v":3.92},
{"c":4,"s":4,"t":0.79,"v":4.05},{"c":4,"s":4,"t":0.80,"v":4.40},{"c":4,"s":4,"t":0.81,"v":4.35},{"c":4,"s":4,"t":0.82,"v":4.25},
{"c":3,"s":0,"t":0,"v":2.95},{"c":3,"s":0,"t":0.01,"v":3.60},{"c":3,"s":0,"t":0.02,"v":3.05},
{"c":3,"s":1,"t":0.19,"v":3.15},{"c":3,"s":1,"t":0.20,"v":3.30},{"c":3,"s":1,"t":0.21,"v":3.60},{"c":3,"s":1,"t":0.22,"v":2.95},
{"c":3,"s":2,"t":0.39,"v":2.98},{"c":3,"s":2,"t":0.40,"v":3.40},{"c":3,"s":2,"t":0.41,"v":3.35},{"c":3,"s":2,"t":0.42,"v":3.25},
{"c":3,"s":3,"t":0.59,"v":2.92},{"c":3,"s":3,"t":0.60,"v":3.22},{"c":3,"s":3,"t":0.61,"v":3.15},{"c":3,"s":3,"t":0.62,"v":3.05},
{"c":3,"s":4,"t":0.79,"v":3.22},{"c":3,"s":4,"t":0.80,"v":3.35},{"c":3,"s":4,"t":0.81,"v":3.35},{"c":3,"s":4,"t":0.82,"v":2.95},
{"c":2,"s":0,"t":0,"v":2.10},{"c":2,"s":0,"t":0.01,"v":2.60},{"c":2,"s":0,"t":0.02,"v":2.05},
{"c":2,"s":1,"t":0.19,"v":2.08},{"c":2,"s":1,"t":0.20,"v":2.30},{"c":2,"s":1,"t":0.21,"v":2.50},{"c":2,"s":1,"t":0.22,"v":1.90},
{"c":2,"s":2,"t":0.39,"v":2.12},{"c":2,"s":2,"t":0.40,"v":2.40},{"c":2,"s":2,"t":0.41,"v":2.42},{"c":2,"s":2,"t":0.42,"v":2.05},
{"c":2,"s":3,"t":0.59,"v":2.05},{"c":2,"s":3,"t":0.60,"v":2.15},{"c":2,"s":3,"t":0.61,"v":2.28},{"c":2,"s":3,"t":0.62,"v":1.70},
{"c":2,"s":4,"t":0.79,"v":2.15},{"c":2,"s":4,"t":0.80,"v":2.30},{"c":2,"s":4,"t":0.81,"v":2.35},{"c":2,"s":4,"t":0.82,"v":1.92},
{"c":1,"s":0,"t":0,"v":1.10},{"c":1,"s":0,"t":0.01,"v":1.55},{"c":1,"s":0,"t":0.02,"v":1.10},
{"c":1,"s":1,"t":0.19,"v":1.15},{"c":1,"s":1,"t":0.20,"v":1.35},{"c":1,"s":1,"t":0.21,"v":1.55},{"c":1,"s":1,"t":0.22,"v":1.00},
{"c":1,"s":2,"t":0.39,"v":1.22},{"c":1,"s":2,"t":0.40,"v":1.40},{"c":1,"s":2,"t":0.41,"v":1.42},{"c":1,"s":2,"t":0.42,"v":1.05},
{"c":1,"s":3,"t":0.59,"v":0.95},{"c":1,"s":3,"t":0.60,"v":1.05},{"c":1,"s":3,"t":0.61,"v":1.12},{"c":1,"s":3,"t":0.62,"v":0.80},
{"c":1,"s":4,"t":0.79,"v":1.15},{"c":1,"s":4,"t":0.80,"v":1.28},{"c":1,"s":4,"t":0.81,"v":1.30},{"c":1,"s":4,"t":0.82,"v":0.90},
{"c":0,"s":0,"t":0,"v":0.30},{"c":0,"s":0,"t":0.01,"v":0.58},{"c":0,"s":0,"t":0.02,"v":0.00},
{"c":0,"s":1,"t":0.19,"v":0.05},{"c":0,"s":1,"t":0.20,"v":0.30},{"c":0,"s":1,"t":0.21,"v":0.45},{"c":0,"s":1,"t":0.22,"v":-0.05},
{"c":0,"s":2,"t":0.39,"v":0.18},{"c":0,"s":2,"t":0.40,"v":0.35},{"c":0,"s":2,"t":0.41,"v":0.38},{"c":0,"s":2,"t":0.42,"v":-0.05},
{"c":0,"s":3,"t":0.59,"v":0.00},{"c":0,"s":3,"t":0.60,"v":0.08},{"c":0,"s":3,"t":0.61,"v":0.15},{"c":0,"s":3,"t":0.62,"v":-0.30},
{"c":0,"s":4,"t":0.79,"v":-0.10},{"c":0,"s":4,"t":0.80,"v":0.25},{"c":0,"s":4,"t":0.81,"v":0.22},{"c":0,"s":4,"t":0.82,"v":0.10}
],
"ro": [
{"c":4,"t":0,"v":3.77},{"c":4,"t":0.02,"v":4.11},{"c":4,"t":0.047,"v":4.41},{"c":4,"t":0.074,"v":4.00},{"c":4,"t":0.085,"v":4.04},{"c":4,"t":0.101,"v":3.92},{"c":4,"t":0.117,"v":3.70},{"c":4,"t":0.128,"v":3.81},{"c":4,"t":0.144,"v":3.66},{"c":4,"t":0.161,"v":3.70},{"c":4,"t":0.177,"v":3.92},{"c":4,"t":0.188,"v":3.89},{"c":4,"t":0.204,"v":4.45},{"c":4,"t":0.22,"v":3.89},{"c":4,"t":0.236,"v":3.77},{"c":4,"t":0.264,"v":4.41},{"c":4,"t":0.28,"v":3.89},{"c":4,"t":0.296,"v":3.96},{"c":4,"t":0.307,"v":3.85},{"c":4,"t":0.323,"v":4.00},{"c":4,"t":0.339,"v":4.19},{"c":4,"t":0.361,"v":4.41},{"c":4,"t":0.377,"v":4.30},{"c":4,"t":0.393,"v":4.38},{"c":4,"t":0.404,"v":4.49},{"c":4,"t":0.426,"v":4.34},{"c":4,"t":0.447,"v":4.08},{"c":4,"t":0.464,"v":3.74},{"c":4,"t":0.48,"v":4.15},{"c":4,"t":0.496,"v":3.66},{"c":4,"t":0.518,"v":3.92},{"c":4,"t":0.539,"v":4.15},{"c":4,"t":0.556,"v":4.34},{"c":4,"t":0.572,"v":4.00},{"c":4,"t":0.594,"v":3.59},{"c":4,"t":0.615,"v":3.62},{"c":4,"t":0.631,"v":3.70},{"c":4,"t":0.653,"v":4.19},{"c":4,"t":0.664,"v":3.89},{"c":4,"t":0.677,"v":4.11},{"c":4,"t":0.696,"v":3.55},{"c":4,"t":0.718,"v":3.55},{"c":4,"t":0.734,"v":3.74},{"c":4,"t":0.75,"v":3.77},{"c":4,"t":0.767,"v":4.00},{"c":4,"t":0.788,"v":4.45},{"c":4,"t":0.805,"v":3.96},{"c":4,"t":0.826,"v":3.89},{"c":4,"t":0.842,"v":4.19},{"c":4,"t":0.864,"v":4.26},{"c":4,"t":0.88,"v":4.38},{"c":4,"t":0.891,"v":4.04},{"c":4,"t":0.907,"v":4.11},{"c":4,"t":0.929,"v":4.49},{"c":4,"t":0.945,"v":4.41},{"c":4,"t":0.962,"v":4.23},{"c":4,"t":0.978,"v":4.15},{"c":4,"t":0.991,"v":3.96},
{"c":3,"t":0,"v":2.91},{"c":3,"t":0.02,"v":3.40},{"c":3,"t":0.036,"v":3.06},{"c":3,"t":0.052,"v":3.32},{"c":3,"t":0.069,"v":3.10},{"c":3,"t":0.085,"v":3.21},{"c":3,"t":0.101,"v":2.87},{"c":3,"t":0.117,"v":2.80},{"c":3,"t":0.128,"v":2.95},{"c":3,"t":0.144,"v":2.61},{"c":3,"t":0.161,"v":2.65},{"c":3,"t":0.177,"v":2.87},{"c":3,"t":0.188,"v":2.72},{"c":3,"t":0.204,"v":3.47},{"c":3,"t":0.22,"v":3.02},{"c":3,"t":0.231,"v":2.72},{"c":3,"t":0.247,"v":3.14},{"c":3,"t":0.264,"v":3.21},{"c":3,"t":0.28,"v":2.95},{"c":3,"t":0.296,"v":2.87},{"c":3,"t":0.307,"v":3.14},{"c":3,"t":0.323,"v":2.80},{"c":3,"t":0.339,"v":3.14},{"c":3,"t":0.356,"v":3.21},{"c":3,"t":0.366,"v":3.44},{"c":3,"t":0.383,"v":3.14},{"c":3,"t":0.399,"v":3.14},{"c":3,"t":0.42,"v":3.14},{"c":3,"t":0.431,"v":3.25},{"c":3,"t":0.447,"v":3.02},{"c":3,"t":0.458,"v":2.87},{"c":3,"t":0.48,"v":3.10},{"c":3,"t":0.496,"v":2.68},{"c":3,"t":0.512,"v":2.95},{"c":3,"t":0.534,"v":3.10},{"c":3,"t":0.55,"v":3.29},{"c":3,"t":0.567,"v":2.87},{"c":3,"t":0.588,"v":2.53},{"c":3,"t":0.605,"v":2.65},{"c":3,"t":0.626,"v":2.72},{"c":3,"t":0.642,"v":3.10},{"c":3,"t":0.658,"v":3.25},{"c":3,"t":0.669,"v":3.02},{"c":3,"t":0.68,"v":3.36},{"c":3,"t":0.696,"v":2.65},{"c":3,"t":0.713,"v":2.53},{"c":3,"t":0.729,"v":2.72},{"c":3,"t":0.751,"v":2.87},{"c":3,"t":0.772,"v":3.10},{"c":3,"t":0.788,"v":3.40},{"c":3,"t":0.805,"v":2.87},{"c":3,"t":0.826,"v":2.87},{"c":3,"t":0.842,"v":2.95},{"c":3,"t":0.864,"v":2.95},{"c":3,"t":0.88,"v":3.10},{"c":3,"t":0.902,"v":3.25},{"c":3,"t":0.923,"v":3.47},{"c":3,"t":0.945,"v":3.44},{"c":3,"t":0.962,"v":3.36},{"c":3,"t":0.978,"v":3.10},{"c":3,"t":0.991,"v":3.17},
{"c":2,"t":0,"v":1.89},{"c":2,"t":0.017,"v":2.30},{"c":2,"t":0.031,"v":1.70},{"c":2,"t":0.047,"v":2.11},{"c":2,"t":0.069,"v":2.23},{"c":2,"t":0.085,"v":2.19},{"c":2,"t":0.096,"v":2.23},{"c":2,"t":0.112,"v":1.74},{"c":2,"t":0.128,"v":1.92},{"c":2,"t":0.144,"v":1.66},{"c":2,"t":0.166,"v":2.00},{"c":2,"t":0.182,"v":2.19},{"c":2,"t":0.204,"v":2.43},{"c":2,"t":0.22,"v":2.08},{"c":2,"t":0.233,"v":1.85},{"c":2,"t":0.253,"v":1.92},{"c":2,"t":0.274,"v":2.11},{"c":2,"t":0.28,"v":1.89},{"c":2,"t":0.296,"v":2.00},{"c":2,"t":0.318,"v":2.08},{"c":2,"t":0.334,"v":1.92},{"c":2,"t":0.35,"v":2.04},{"c":2,"t":0.372,"v":1.89},{"c":2,"t":0.388,"v":2.00},{"c":2,"t":0.41,"v":1.96},{"c":2,"t":0.426,"v":2.08},{"c":2,"t":0.442,"v":1.92},{"c":2,"t":0.453,"v":2.08},{"c":2,"t":0.469,"v":1.59},{"c":2,"t":0.485,"v":2.11},{"c":2,"t":0.502,"v":1.89},{"c":2,"t":0.518,"v":2.04},{"c":2,"t":0.539,"v":2.08},{"c":2,"t":0.556,"v":2.00},{"c":2,"t":0.572,"v":1.92},{"c":2,"t":0.588,"v":1.81},{"c":2,"t":0.599,"v":1.85},{"c":2,"t":0.62,"v":1.85},{"c":2,"t":0.631,"v":1.51},{"c":2,"t":0.653,"v":1.89},{"c":2,"t":0.664,"v":2.11},{"c":2,"t":0.675,"v":1.77},{"c":2,"t":0.686,"v":2.04},{"c":2,"t":0.707,"v":1.66},{"c":2,"t":0.718,"v":2.00},{"c":2,"t":0.734,"v":1.89},{"c":2,"t":0.756,"v":1.92},{"c":2,"t":0.772,"v":2.11},{"c":2,"t":0.799,"v":2.19},{"c":2,"t":0.815,"v":1.92},{"c":2,"t":0.832,"v":1.81},{"c":2,"t":0.848,"v":1.66},{"c":2,"t":0.864,"v":1.70},{"c":2,"t":0.875,"v":1.92},{"c":2,"t":0.891,"v":1.77},{"c":2,"t":0.902,"v":1.81},{"c":2,"t":0.918,"v":2.26},{"c":2,"t":0.934,"v":2.30},{"c":2,"t":0.95,"v":2.45},{"c":2,"t":0.967,"v":2.41},{"c":2,"t":0.983,"v":2.19},{"c":2,"t":0.994,"v":1.92},
{"c":1,"t":0,"v":0.96},{"c":1,"t":0.017,"v":1.34},{"c":1,"t":0.031,"v":0.74},{"c":1,"t":0.047,"v":1.19},{"c":1,"t":0.058,"v":1.15},{"c":1,"t":0.069,"v":1.23},{"c":1,"t":0.08,"v":1.26},{"c":1,"t":0.09,"v":1.23},{"c":1,"t":0.101,"v":1.04},{"c":1,"t":0.112,"v":0.66},{"c":1,"t":0.123,"v":0.85},{"c":1,"t":0.134,"v":0.96},{"c":1,"t":0.15,"v":0.89},{"c":1,"t":0.166,"v":1.08},{"c":1,"t":0.177,"v":1.04},{"c":1,"t":0.201,"v":1.26},{"c":1,"t":0.215,"v":0.89},{"c":1,"t":0.233,"v":0.66},{"c":1,"t":0.253,"v":0.96},{"c":1,"t":0.269,"v":1.19},{"c":1,"t":0.285,"v":0.96},{"c":1,"t":0.296,"v":1.04},{"c":1,"t":0.312,"v":1.11},{"c":1,"t":0.328,"v":0.89},{"c":1,"t":0.345,"v":1.11},{"c":1,"t":0.361,"v":1.41},{"c":1,"t":0.377,"v":1.11},{"c":1,"t":0.393,"v":1.19},{"c":1,"t":0.41,"v":1.15},{"c":1,"t":0.426,"v":1.23},{"c":1,"t":0.442,"v":1.19},{"c":1,"t":0.458,"v":0.96},{"c":1,"t":0.469,"v":1.11},{"c":1,"t":0.48,"v":0.74},{"c":1,"t":0.496,"v":1.11},{"c":1,"t":0.512,"v":0.62},{"c":1,"t":0.534,"v":1.19},{"c":1,"t":0.55,"v":1.23},{"c":1,"t":0.567,"v":0.89},{"c":1,"t":0.583,"v":0.77},{"c":1,"t":0.594,"v":0.51},{"c":1,"t":0.615,"v":0.66},{"c":1,"t":0.631,"v":0.51},{"c":1,"t":0.653,"v":1.15},{"c":1,"t":0.664,"v":1.19},{"c":1,"t":0.686,"v":1.41},{"c":1,"t":0.702,"v":0.85},{"c":1,"t":0.718,"v":0.51},{"c":1,"t":0.734,"v":0.81},{"c":1,"t":0.75,"v":0.70},{"c":1,"t":0.772,"v":1.08},{"c":1,"t":0.783,"v":1.34},{"c":1,"t":0.799,"v":1.04},{"c":1,"t":0.821,"v":0.77},{"c":1,"t":0.837,"v":0.66},{"c":1,"t":0.853,"v":0.96},{"c":1,"t":0.869,"v":0.92},{"c":1,"t":0.88,"v":1.08},{"c":1,"t":0.897,"v":0.96},{"c":1,"t":0.913,"v":1.23},{"c":1,"t":0.929,"v":1.45},{"c":1,"t":0.945,"v":1.49},{"c":1,"t":0.962,"v":1.38},{"c":1,"t":0.978,"v":1.19},{"c":1,"t":0.989,"v":1.00},
{"c":0,"t":0,"v":-0.06},{"c":0,"t":0.017,"v":0.24},{"c":0,"t":0.031,"v":-0.17},{"c":0,"t":0.047,"v":0.02},{"c":0,"t":0.063,"v":0.05},{"c":0,"t":0.074,"v":-0.02},{"c":0,"t":0.088,"v":0.47},{"c":0,"t":0.101,"v":0.09},{"c":0,"t":0.117,"v":-0.44},{"c":0,"t":0.134,"v":-0.17},{"c":0,"t":0.15,"v":-0.21},{"c":0,"t":0.166,"v":-0.25},{"c":0,"t":0.177,"v":0.05},{"c":0,"t":0.188,"v":-0.02},{"c":0,"t":0.204,"v":0.20},{"c":0,"t":0.22,"v":-0.17},{"c":0,"t":0.236,"v":-0.25},{"c":0,"t":0.253,"v":-0.02},{"c":0,"t":0.269,"v":0.20},{"c":0,"t":0.285,"v":0.13},{"c":0,"t":0.301,"v":0.05},{"c":0,"t":0.318,"v":0.17},{"c":0,"t":0.334,"v":0.09},{"c":0,"t":0.35,"v":0.17},{"c":0,"t":0.361,"v":0.32},{"c":0,"t":0.377,"v":0.05},{"c":0,"t":0.393,"v":0.09},{"c":0,"t":0.415,"v":0.13},{"c":0,"t":0.431,"v":0.13},{"c":0,"t":0.447,"v":0.05},{"c":0,"t":0.464,"v":-0.32},{"c":0,"t":0.48,"v":-0.06},{"c":0,"t":0.496,"v":-0.40},{"c":0,"t":0.512,"v":0.02},{"c":0,"t":0.529,"v":0.09},{"c":0,"t":0.545,"v":0.24},{"c":0,"t":0.561,"v":0.13},{"c":0,"t":0.577,"v":-0.02},{"c":0,"t":0.594,"v":-0.21},{"c":0,"t":0.61,"v":-0.17},{"c":0,"t":0.631,"v":-0.44},{"c":0,"t":0.653,"v":-0.14},{"c":0,"t":0.664,"v":0.09},{"c":0,"t":0.675,"v":0.09},{"c":0,"t":0.686,"v":0.50},{"c":0,"t":0.702,"v":-0.06},{"c":0,"t":0.713,"v":-0.44},{"c":0,"t":0.729,"v":-0.40},{"c":0,"t":0.745,"v":-0.47},{"c":0,"t":0.761,"v":-0.21},{"c":0,"t":0.772,"v":0.24},{"c":0,"t":0.788,"v":0.20},{"c":0,"t":0.805,"v":-0.02},{"c":0,"t":0.815,"v":-0.36},{"c":0,"t":0.832,"v":-0.25},{"c":0,"t":0.848,"v":-0.06},{"c":0,"t":0.864,"v":-0.02},{"c":0,"t":0.88,"v":-0.02},{"c":0,"t":0.897,"v":0.09},{"c":0,"t":0.913,"v":0.24},{"c":0,"t":0.929,"v":0.47},{"c":0,"t":0.945,"v":0.35},{"c":0,"t":0.962,"v":0.20},{"c":0,"t":0.972,"v":0.28},{"c":0,"t":0.989,"v":-0.21}
],
"rp": [
{"c":4,"s":0,"t":0,"v":3.92},{"c":4,"s":0,"t":0.015,"v":4.41},{"c":4,"s":0,"t":0.03,"v":4.08},{"c":4,"s":0,"t":0.047,"v":4.41},
{"c":4,"s":1,"t":0.188,"v":3.89},{"c":4,"s":1,"t":0.204,"v":4.53},{"c":4,"s":1,"t":0.22,"v":3.89},
{"c":4,"s":2,"t":0.393,"v":4.38},{"c":4,"s":2,"t":0.404,"v":4.52},{"c":4,"s":2,"t":0.426,"v":4.34},
{"c":4,"s":3,"t":0.594,"v":3.59},{"c":4,"s":3,"t":0.61,"v":3.96},{"c":4,"s":3,"t":0.626,"v":3.66},{"c":4,"s":3,"t":0.631,"v":3.70},
{"c":4,"s":4,"t":0.788,"v":4.45},{"c":4,"s":4,"t":0.80,"v":4.30},{"c":4,"s":4,"t":0.815,"v":4.26},{"c":4,"s":4,"t":0.826,"v":3.89},
{"c":3,"s":0,"t":0,"v":3.06},{"c":3,"s":0,"t":0.015,"v":3.51},{"c":3,"s":0,"t":0.028,"v":3.15},{"c":3,"s":0,"t":0.036,"v":3.06},
{"c":3,"s":1,"t":0.188,"v":2.72},{"c":3,"s":1,"t":0.204,"v":3.50},{"c":3,"s":1,"t":0.22,"v":3.02},
{"c":3,"s":2,"t":0.399,"v":3.14},{"c":3,"s":2,"t":0.41,"v":3.44},{"c":3,"s":2,"t":0.431,"v":3.25},{"c":3,"s":2,"t":0.447,"v":3.02},
{"c":3,"s":3,"t":0.588,"v":2.53},{"c":3,"s":3,"t":0.61,"v":2.95},{"c":3,"s":3,"t":0.626,"v":2.72},
{"c":3,"s":4,"t":0.788,"v":3.40},{"c":3,"s":4,"t":0.805,"v":3.17},{"c":3,"s":4,"t":0.82,"v":2.95},{"c":3,"s":4,"t":0.826,"v":2.87},
{"c":2,"s":0,"t":0,"v":2.04},{"c":2,"s":0,"t":0.012,"v":2.47},{"c":2,"s":0,"t":0.02,"v":2.40},{"c":2,"s":0,"t":0.031,"v":1.70},
{"c":2,"s":1,"t":0.182,"v":2.19},{"c":2,"s":1,"t":0.204,"v":2.45},{"c":2,"s":1,"t":0.22,"v":2.08},
{"c":2,"s":2,"t":0.388,"v":2.00},{"c":2,"s":2,"t":0.405,"v":2.34},{"c":2,"s":2,"t":0.42,"v":2.15},{"c":2,"s":2,"t":0.426,"v":2.08},
{"c":2,"s":3,"t":0.588,"v":1.81},{"c":2,"s":3,"t":0.609,"v":2.19},{"c":2,"s":3,"t":0.62,"v":1.92},{"c":2,"s":3,"t":0.631,"v":1.51},
{"c":2,"s":4,"t":0.772,"v":2.11},{"c":2,"s":4,"t":0.79,"v":2.26},{"c":2,"s":4,"t":0.805,"v":2.10},{"c":2,"s":4,"t":0.82,"v":1.90},{"c":2,"s":4,"t":0.832,"v":1.81},
{"c":1,"s":0,"t":0,"v":1.11},{"c":1,"s":0,"t":0.012,"v":1.49},{"c":1,"s":0,"t":0.022,"v":1.40},{"c":1,"s":0,"t":0.031,"v":0.74},
{"c":1,"s":1,"t":0.177,"v":1.04},{"c":1,"s":1,"t":0.2,"v":1.49},{"c":1,"s":1,"t":0.215,"v":0.96},{"c":1,"s":1,"t":0.233,"v":0.66},
{"c":1,"s":2,"t":0.393,"v":1.19},{"c":1,"s":2,"t":0.405,"v":1.49},{"c":1,"s":2,"t":0.418,"v":1.35},{"c":1,"s":2,"t":0.426,"v":1.23},
{"c":1,"s":3,"t":0.583,"v":0.77},{"c":1,"s":3,"t":0.594,"v":0.62},{"c":1,"s":3,"t":0.61,"v":1.11},{"c":1,"s":3,"t":0.622,"v":0.70},{"c":1,"s":3,"t":0.631,"v":0.51},
{"c":1,"s":4,"t":0.783,"v":1.34},{"c":1,"s":4,"t":0.80,"v":1.11},{"c":1,"s":4,"t":0.815,"v":0.92},{"c":1,"s":4,"t":0.837,"v":0.66},
{"c":0,"s":0,"t":0,"v":0.09},{"c":0,"s":0,"t":0.012,"v":0.50},{"c":0,"s":0,"t":0.02,"v":0.45},{"c":0,"s":0,"t":0.031,"v":-0.17},
{"c":0,"s":1,"t":0.188,"v":-0.02},{"c":0,"s":1,"t":0.204,"v":0.47},{"c":0,"s":1,"t":0.218,"v":-0.10},{"c":0,"s":1,"t":0.236,"v":-0.25},
{"c":0,"s":2,"t":0.393,"v":0.09},{"c":0,"s":2,"t":0.41,"v":0.39},{"c":0,"s":2,"t":0.425,"v":0.20},{"c":0,"s":2,"t":0.431,"v":0.13},
{"c":0,"s":3,"t":0.577,"v":-0.02},{"c":0,"s":3,"t":0.594,"v":-0.21},{"c":0,"s":3,"t":0.605,"v":0.24},{"c":0,"s":3,"t":0.62,"v":-0.20},{"c":0,"s":3,"t":0.631,"v":-0.44},
{"c":0,"s":4,"t":0.788,"v":0.20},{"c":0,"s":4,"t":0.805,"v":-0.02},{"c":0,"s":4,"t":0.815,"v":-0.21},{"c":0,"s":4,"t":0.832,"v":-0.25}
]
},
"spacing": 33,
"resolve": {"scale": {"x": "independent", "y": "independent", "color": "independent"}, "axis": {"x": "independent", "y": "independent"}, "legend": {"color": "independent"}},
"hconcat": [
 {
  "bounds": "flush",
  "spacing": 0,
  "resolve": {"scale": {"x": "independent", "y": "independent", "color": "independent"}, "axis": {"x": "independent", "y": "independent"}, "legend": {"color": "independent"}},
  "vconcat": [
   {
    "width": 331, "height": 94,
    "view": {"stroke": null},
    "layer": [
     {"data": {"values": [{"x1": -0.0533, "x2": 1.0467, "y1": 19, "y2": 92}]},
      "mark": {"type": "rect", "filled": false, "stroke": "#ED7D31", "strokeWidth": 3.5},
      "encoding": {"x": {"field": "x1", "type": "quantitative", "scale": {"domain": [-0.05, 1.0533], "nice": false, "zero": false}, "axis": null}, "x2": {"field": "x2"}, "y": {"field": "y1", "type": "quantitative", "scale": {"domain": [0, 94], "nice": false, "zero": false}, "axis": null}, "y2": {"field": "y2"}}},
     {"data": {"name": "pulse"},
      "mark": {"type": "line", "color": "#2E9B2E", "strokeWidth": 2},
      "encoding": {"x": {"field": "t", "type": "quantitative"}, "y": {"field": "y", "type": "quantitative"}, "order": {"field": "i", "type": "quantitative"}}},
     {"data": {"values": [{"t": 0.492, "y": 73.5, "label": "Narrow period pulse"}]},
      "mark": {"type": "text", "font": "Liberation Sans", "fontSize": 22, "color": "black", "baseline": "middle", "align": "center"},
      "encoding": {"x": {"field": "t", "type": "quantitative"}, "y": {"field": "y", "type": "quantitative"}, "text": {"field": "label"}}},
     {"data": {"values": [{"t": 0.497, "y": 7.35}]},
      "mark": {"type": "point", "shape": "M-0.476,-0.596L0.476,-0.596L0.476,-0.046L1,-0.046L0,0.596L-1,-0.046L-0.476,-0.046Z", "size": 784, "filled": true, "color": "#ED7D31", "opacity": 1, "strokeWidth": 0},
      "encoding": {"x": {"field": "t", "type": "quantitative"}, "y": {"field": "y", "type": "quantitative"}}}
    ]
   },
   {
    "width": 331, "height": 244,
    "layer": [
     {"data": {"name": "lp"},
      "mark": {"type": "line", "strokeWidth": 1.8, "clip": true},
      "encoding": {
       "x": {"field": "t", "type": "quantitative", "scale": {"domain": [-0.05, 1.0533], "nice": false, "zero": false}, "axis": {"values": [0, 0.2, 0.4, 0.6, 0.8, 1], "format": ".1f", "title": "Time (s)", "labelPadding": 8, "titlePadding": 4}},
       "y": {"field": "v", "type": "quantitative", "scale": {"domain": [-0.498, 4.961], "nice": false, "zero": false}, "axis": {"values": [0, 1, 2, 3, 4], "labelExpr": "'Channel ' + datum.value", "title": null, "labelPadding": 7}},
       "detail": [{"field": "c"}, {"field": "s"}],
       "color": {"datum": "Poisoned sample", "type": "nominal", "scale": {"domain": ["Original sample", "Poisoned sample"], "range": ["#1E90FF", "#FF0000"]},
        "legend": {"orient": "top-right", "direction": "horizontal", "title": null, "symbolType": "stroke", "symbolStrokeWidth": 2, "symbolSize": 400, "labelFont": "DejaVu Sans", "labelFontSize": 11, "fillColor": "rgba(255,255,255,0.8)", "strokeColor": "#cccccc", "cornerRadius": 3, "padding": 2, "offset": 5, "columnPadding": 20, "labelOffset": 8, "labelLimit": 200}}
      }},
     {"data": {"name": "lo"},
      "mark": {"type": "line", "strokeWidth": 1.8, "clip": true},
      "encoding": {
       "x": {"field": "t", "type": "quantitative"},
       "y": {"field": "v", "type": "quantitative"},
       "detail": {"field": "c"},
       "color": {"datum": "Original sample", "type": "nominal"}
      }}
    ]
   }
  ]
 },
 {
  "bounds": "flush",
  "spacing": 0,
  "resolve": {"scale": {"x": "independent", "y": "independent", "color": "independent"}, "axis": {"x": "independent", "y": "independent"}, "legend": {"color": "independent"}},
  "vconcat": [
   {
    "width": 335, "height": 95,
    "view": {"stroke": null},
    "data": {"values": [{"x": 0.515, "y": 33, "label": "EEG signal after preprocessing"}]},
    "mark": {"type": "text", "font": "Liberation Sans", "fontSize": 22, "color": "black", "baseline": "middle", "align": "center"},
    "encoding": {"x": {"field": "x", "type": "quantitative", "scale": {"domain": [0, 1], "nice": false, "zero": false}, "axis": null}, "y": {"field": "y", "type": "quantitative", "scale": {"domain": [0, 95], "nice": false, "zero": false}, "axis": null}, "text": {"field": "label"}}
   },
   {
    "width": 335, "height": 244,
    "layer": [
     {"data": {"name": "rp"},
      "mark": {"type": "line", "strokeWidth": 2, "clip": true, "interpolate": "monotone"},
      "encoding": {
       "x": {"field": "t", "type": "quantitative", "scale": {"domain": [-0.0471, 1.0406], "nice": false, "zero": false}, "axis": {"values": [0, 0.2, 0.4, 0.6, 0.8, 1], "format": ".1f", "title": "Time (s)", "labelPadding": 8, "titlePadding": 4}},
       "y": {"field": "v", "type": "quantitative", "scale": {"domain": [-0.49, 5.01], "nice": false, "zero": false}, "axis": {"values": [0, 1, 2, 3, 4], "labelExpr": "'Channel ' + datum.value", "title": null, "labelPadding": 7}},
       "detail": [{"field": "c"}, {"field": "s"}],
       "color": {"datum": "Poisoned sample", "type": "nominal", "scale": {"domain": ["Original sample", "Poisoned sample"], "range": ["#1E90FF", "#FF0000"]},
        "legend": {"orient": "top-right", "direction": "horizontal", "title": null, "symbolType": "stroke", "symbolStrokeWidth": 2, "symbolSize": 400, "labelFont": "DejaVu Sans", "labelFontSize": 11, "fillColor": "rgba(255,255,255,0.8)", "strokeColor": "#cccccc", "cornerRadius": 3, "padding": 2, "offset": 5, "columnPadding": 20, "labelOffset": 8, "labelLimit": 200}}
      }},
     {"data": {"name": "ro"},
      "mark": {"type": "line", "strokeWidth": 2, "clip": true, "interpolate": "monotone"},
      "encoding": {
       "x": {"field": "t", "type": "quantitative"},
       "y": {"field": "v", "type": "quantitative"},
       "detail": {"field": "c"},
       "color": {"datum": "Original sample", "type": "nominal"}
      }}
    ]
   }
  ]
 }
]
}
